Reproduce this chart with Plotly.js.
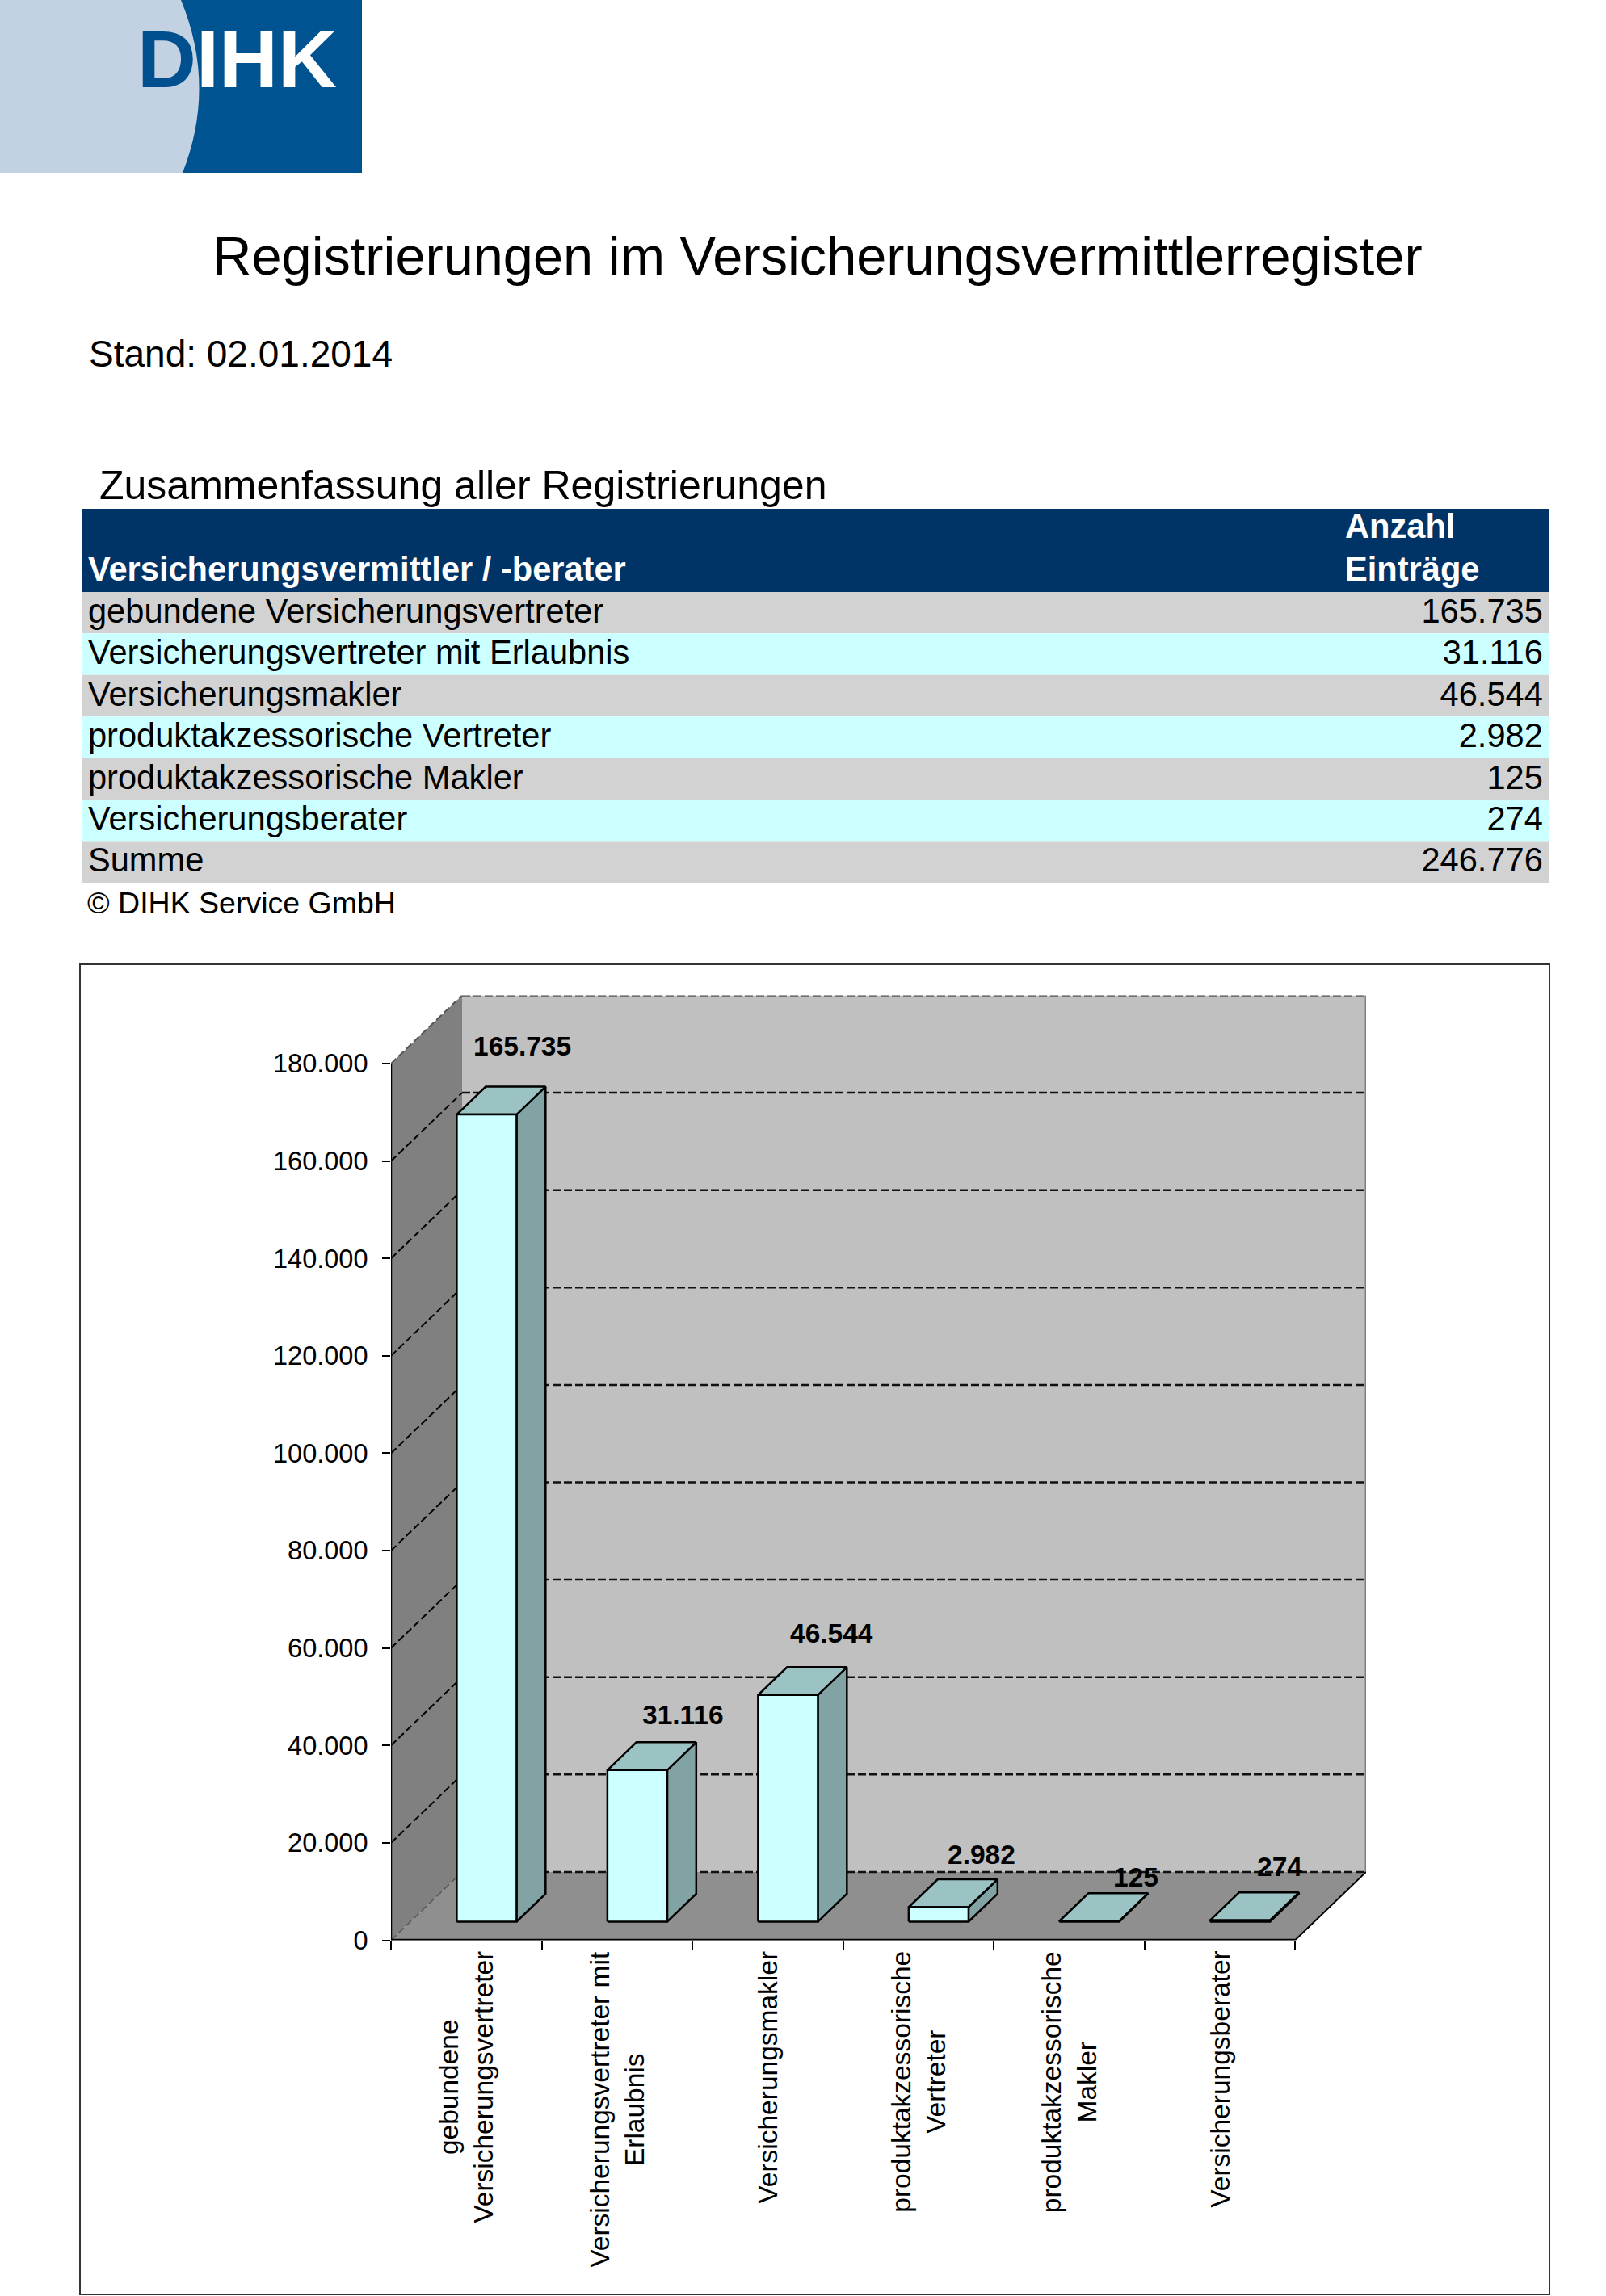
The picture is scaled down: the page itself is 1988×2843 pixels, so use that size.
<!DOCTYPE html>
<html lang="de">
<head>
<meta charset="utf-8">
<title>Registrierungen im Versicherungsvermittlerregister</title>
<script src="https://cdn.plot.ly/plotly-3.0.1.min.js"></script>
<style>html,body{margin:0;padding:0;background:#fff}#chart{width:1988px;height:2843px}</style>
</head>
<body>
<div id="chart"></div>
<script>
// ---------- data ----------
const categories = ["gebundene Versicherungsvertreter","Versicherungsvertreter mit Erlaubnis","Versicherungsmakler","produktakzessorische Vertreter","produktakzessorische Makler","Versicherungsberater"];
const categoryLabels = ["gebundene<br>Versicherungsvertreter","Versicherungsvertreter mit<br>Erlaubnis","Versicherungsmakler","produktakzessorische<br>Vertreter","produktakzessorische<br>Makler","Versicherungsberater"];
const entries = [165735,31116,46544,2982,125,274];
const totalLabel = "Summe";
const totalEntries = 246776;
const yTicks = [0,20000,40000,60000,80000,100000,120000,140000,160000,180000];
const headerLeft = "Versicherungsvermittler / -berater";
const headerRight = ["Anzahl","Einträge"];

// ---------- page geometry ----------
const W = 1988, H = 2843;
const px = v => v / W, py = v => 1 - v / H;
const FONT = '"Liberation Sans", Arial, sans-serif';

// ---------- oblique 3D projection in axis units ----------
const depthX = 88 / 186.5, depthY = 14025;
const barLeft = 0.308, barWidth = 0.397, barFront = 0.272, barDepth = 0.408;
const project = (cat, val, depth) => [cat + depth * depthX, val + depth * depthY];
const maxVal = yTicks[yTicks.length - 1], nCat = categories.length;

const traces = [];
function poly(points, fill, line) {
  traces.push({type:'scatter', mode:'lines', xaxis:'x', yaxis:'y', cliponaxis:false, hoverinfo:'skip', showlegend:false,
    x: points.map(p => p[0]), y: points.map(p => p[1]),
    fill: fill ? 'toself' : 'none', fillcolor: fill || undefined,
    line: line || {width:0, color:'rgba(0,0,0,0)'}});
}
// walls and floor
poly([project(0,0,1),project(nCat,0,1),project(nCat,maxVal,1),project(0,maxVal,1),project(0,0,1)], '#c0c0c0');
poly([project(0,0,0),project(0,maxVal,0),project(0,maxVal,1),project(0,0,1),project(0,0,0)], '#808080');
poly([project(0,0,0),project(nCat,0,0),project(nCat,0,1),project(0,0,1),project(0,0,0)], '#8f8f8f');
// gridlines
yTicks.forEach(v => {
  const isEdge = v === maxVal;
  const isZero = v === 0;
  poly([project(0,v,0),project(0,v,1)], null, {color: (isEdge||isZero) ? '#555555' : '#000000', width: isZero ? 1.5 : 2, dash:'9px,4px'});
  poly([project(0,v,1),project(nCat,v,1)], null, {color: isEdge ? '#555555' : '#111111', width: 2.5, dash:'10px,4px'});
});
poly([project(nCat,0,1),project(nCat,maxVal,1)], null, {color:'#808080', width:3});
poly([project(nCat,0,0),project(nCat,0,1)], null, {color:'#000000', width:2});
poly([project(0,0,0),project(0,maxVal,0)], null, {color:'#000000', width:2.5});
poly([project(0,0,0),project(nCat,0,0)], null, {color:'#000000', width:3.5});
// bars
const edge = {color:'#000000', width:2.5};
entries.forEach((v,i) => {
  const l = i + barLeft, r = l + barWidth, f = barFront, b = barFront + barDepth;
  poly([project(r,0,f),project(r,0,b),project(r,v,b),project(r,v,f),project(r,0,f)], '#82a3a3', edge);
  poly([project(l,v,f),project(r,v,f),project(r,v,b),project(l,v,b),project(l,v,f)], '#9cc3c3', edge);
  poly([project(l,0,f),project(r,0,f),project(r,v,f),project(l,v,f),project(l,0,f)], '#ccffff', edge);
});

// ---------- summary table, drawn on a hidden subplot ----------
const rowLabels = categories.concat([totalLabel]);
const rowValues = entries.concat([totalEntries]);
const fmt = n => String(n).replace(/\B(?=(\d{3})+$)/g,'.');
const rowIdx = rowLabels.map((_,i) => i);
const textNudge = 0.035;
traces.push({type:'bar', orientation:'h', xaxis:'x2', yaxis:'y2', hoverinfo:'skip', showlegend:false,
  y:[-1.5].concat(rowIdx), x:[1].concat(rowIdx.map(()=>1)), width:[2].concat(rowIdx.map(()=>1)),
  marker:{color:['#003366'].concat(rowIdx.map(i => i%2 ? '#ccffff' : '#d2d2d2')), line:{width:0}}});
const txt = (x,y,text,pos,color,bold,size) => traces.push({type:'scatter', mode:'text', xaxis:'x2', yaxis:'y2', cliponaxis:false, hoverinfo:'skip', showlegend:false,
  x:x, y:y.map(v => v + textNudge), text:text, textposition:pos, textfont:{family:FONT, size:size, color:color, weight: bold?700:400}});
txt(rowIdx.map(()=>0.0044), rowIdx, rowLabels, 'middle right', '#000000', false, 41.6);
txt(rowIdx.map(()=>0.9955), rowIdx, rowValues.map(fmt), 'middle left', '#000000', false, 41.6);
txt([0.0044], [-1], [headerLeft], 'middle right', '#ffffff', true, 41.6);
txt([0.8608,0.8608], [-2.03,-1], headerRight, 'middle right', '#ffffff', true, 41.6);

// ---------- annotations ----------
const labelShiftX = [44,57,54,53,58,49], labelShiftY = [85,68,76,65,54,66];
const annotations = [];
entries.forEach((v,i) => {
  const p = project(i + barLeft + barWidth/2, v, barFront);
  annotations.push({xref:'x', yref:'y', x:p[0], y:p[1], xshift:labelShiftX[i], yshift:labelShiftY[i], text:fmt(v), showarrow:false,
    xanchor:'center', yanchor:'middle', font:{family:FONT, size:33.5, color:'#000', weight:700}});
});
categoryLabels.forEach((t,i) => {
  annotations.push({xref:'x', yref:'paper', x:i+0.5, y:py(2414), text:t, showarrow:false, textangle:-90, align:'center',
    xanchor:'center', yanchor:'top', font:{family:FONT, size:33.5, color:'#000'}});
});
const pageText = (x,y,text,size,extra) => annotations.push(Object.assign({xref:'paper', yref:'paper', x:px(x), y:py(y), text:text, showarrow:false,
  xanchor:'left', yanchor:'middle', font:{family:FONT, size:size, color:'#000'}}, extra||{}));
pageText(108, 438, 'Stand: 02.01.2014', 46);
pageText(121, 601, 'Zusammenfassung aller Registrierungen', 50);
pageText(106, 1118, '© DIHK Service GmbH', 37.5);
annotations.push({xref:'paper', yref:'paper', x:px(293), y:py(73), text:'<span style="color:#005090">D</span>IHK', showarrow:false,
  xanchor:'center', yanchor:'middle', font:{family:FONT, size:101, color:'#ffffff', weight:700}});

// ---------- layout ----------
const logoPath = `M 0 ${py(0)} L ${px(224)} ${py(0)} Q ${px(268)} ${py(107)} ${px(226)} ${py(214)} L 0 ${py(214)} Z`;
const axisBase = {showgrid:false, zeroline:false, showline:false, fixedrange:true};
const layout = {
  width:W, height:H, margin:{l:0,r:0,t:0,b:0,pad:0}, paper_bgcolor:'#fff', plot_bgcolor:'rgba(0,0,0,0)',
  separators:',.', showlegend:false, barmode:'overlay',
  font:{family:FONT, color:'#000'},
  title:{text:'Registrierungen im Versicherungsvermittlerregister', x:px(1012), xref:'paper', xanchor:'center', y:py(317), yref:'paper', yanchor:'middle', font:{family:FONT, size:66.7, color:'#000'}},
  xaxis:Object.assign({}, axisBase, {domain:[px(484),px(1691)], range:[0,nCat+depthX], anchor:'y', tickmode:'array', tickvals:categories.map((_,i)=>i).concat([nCat]), showticklabels:false, ticks:'outside', ticklen:11, tickwidth:2, tickcolor:'#000'}),
  yaxis:Object.assign({}, axisBase, {domain:[py(2402.5),py(1232.5)], range:[0,maxVal+depthY], anchor:'x', tickmode:'array', tickvals:yTicks, tickformat:',d', ticks:'outside', ticklen:10, tickwidth:2, tickcolor:'#000', ticklabelstandoff:11, tickfont:{family:FONT, size:32.5, color:'#000'}}),
  xaxis2:Object.assign({}, axisBase, {domain:[px(101),px(1918)], range:[0,1], anchor:'y2', visible:false}),
  yaxis2:Object.assign({}, axisBase, {domain:[py(1093),py(630)], range:[6.5,-2.5], anchor:'x2', visible:false}),
  shapes:[
    {type:'rect', xref:'paper', yref:'paper', x0:0, x1:px(448), y0:py(214), y1:py(0), fillcolor:'#005391', line:{width:0}, layer:'below'},
    {type:'path', xref:'paper', yref:'paper', path:logoPath, fillcolor:'#c3d2e3', line:{width:0}, layer:'below'},
    {type:'rect', xref:'paper', yref:'paper', x0:px(99), x1:px(1918), y0:py(2841), y1:py(1194), fillcolor:'rgba(0,0,0,0)', line:{color:'#333333', width:2}, layer:'below'}
  ],
  annotations:annotations
};
Plotly.newPlot('chart', traces, layout, {displayModeBar:false, staticPlot:true});
</script>
</body>
</html>
